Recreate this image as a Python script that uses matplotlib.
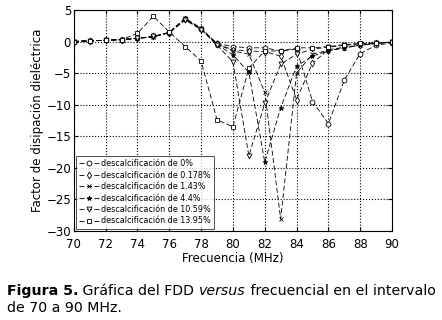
import numpy as np
import matplotlib
matplotlib.use('Agg')
from matplotlib import pyplot as plt

# frequency axis (MHz)
freq = list(range(70, 91))

# dissipation factor for each decalcification level
fdd_0 = [0.0, 0.1, 0.2, 0.3, 0.5, 0.8, 1.4, 3.6, 2.0, -0.3, -0.8, -1.0, -1.0, -1.5, -1.2,
         -9.5, -13.0, -6.1, -1.9, -0.6, -0.2]
fdd_0178 = [0.0, 0.1, 0.2, 0.3, 0.5, 0.8, 1.4, 3.5, 2.0, -0.4, -1.3, -1.5, -1.6, -2.3, -9.2,
            -3.4, -1.3, -0.9, -0.6, -0.3, -0.1]
fdd_143 = [0.0, 0.1, 0.2, 0.3, 0.5, 0.7, 1.5, 3.7, 2.1, -0.4, -1.5, -2.0, -8.0, -28.1, -5.0,
           -2.0, -1.4, -1.0, -0.6, -0.3, -0.1]
fdd_44 = [0.0, 0.1, 0.2, 0.3, 0.5, 0.8, 1.4, 3.5, 2.0, -0.5, -2.1, -4.9, -19.1, -10.5, -3.9,
          -2.3, -1.5, -1.0, -0.6, -0.3, -0.1]
fdd_1059 = [0.0, 0.1, 0.2, 0.3, 0.5, 0.8, 1.4, 3.4, 1.9, -0.6, -3.2, -18.1, -9.8, -3.6, -2.0,
            -1.2, -0.9, -0.6, -0.4, -0.2, -0.1]
fdd_1395 = [0.0, 0.1, 0.2, 0.3, 1.3, 4.0, 1.5, -0.8, -3.1, -12.4, -13.5, -4.2, -1.5, -1.5, -1.0,
            -1.0, -0.8, -0.5, -0.3, -0.2, -0.1]

labels = ['descalcificación de 0%', 'descalcificación de 0.178%', 'descalcificación de 1.43%',
          'descalcificación de 4.4%', 'descalcificación de 10.59%', 'descalcificación de 13.95%']
series = [fdd_0, fdd_0178, fdd_143, fdd_44, fdd_1059, fdd_1395]
markers = ['o', 'd', 'x', '*', 'v', 's']

plt.rcParams['font.family'] = ['DejaVu Sans']

fig = plt.figure(figsize=(4.42, 3.2), dpi=100)
ax = fig.add_axes([0.167, 0.278, 0.72, 0.691])

for vals, lab, mk in zip(series, labels, markers):
    filled = mk == '*'
    ax.plot(freq, vals, linestyle=(0, (6, 3)), color='black', linewidth=0.6,
            marker=mk, markersize=3.5, markeredgewidth=0.6,
            markerfacecolor='black' if filled else 'white', markeredgecolor='black',
            label=lab)

ax.set_xlim(70, 90)
ax.set_ylim(-30, 5)
ax.set_xticks(range(70, 91, 2))
ax.set_yticks(range(-30, 6, 5))
ax.grid(True, linestyle=':', color='black', linewidth=0.8)
ax.tick_params(direction='in', labelsize=8.5, top=True, right=True, length=3)
ax.tick_params(axis='x', pad=5)
ax.tick_params(axis='y', pad=2)
for sp in ax.spines.values():
    sp.set_linewidth(0.8)

ax.set_xlabel('Frecuencia (MHz)', fontsize=8.5, labelpad=1)
ax.set_ylabel('Factor de disipación dieléctrica', fontsize=8.5, labelpad=2)

leg = ax.legend(loc='lower left', fontsize=5.8, frameon=True, fancybox=False,
                edgecolor='black', handlelength=2.4, borderpad=0.4, labelspacing=0.3,
                handletextpad=0.3, borderaxespad=0.3)
leg.get_frame().set_linewidth(0.6)

# caption, built from pieces with different weights
fig.canvas.draw()
renderer = fig.canvas.get_renderer()
x0 = 7 / 442
y1 = 1 - 291 / 320
pieces = [('Figura 5.', 'bold', 'normal'), (' Gráfica del FDD ', 'normal', 'normal'),
          ('versus', 'normal', 'italic'), (' frecuencial en el intervalo', 'normal', 'normal')]
xc = x0
for txt, w, st in pieces:
    t = fig.text(xc, y1, txt, fontsize=10.2, fontweight=w, fontstyle=st, va='center')
    bb = t.get_window_extent(renderer)
    xc += bb.width / fig.bbox.width
fig.text(x0, 1 - 308 / 320, 'de 70 a 90 MHz.', fontsize=10.2, va='center')

fig.savefig('out.png', dpi=100)
